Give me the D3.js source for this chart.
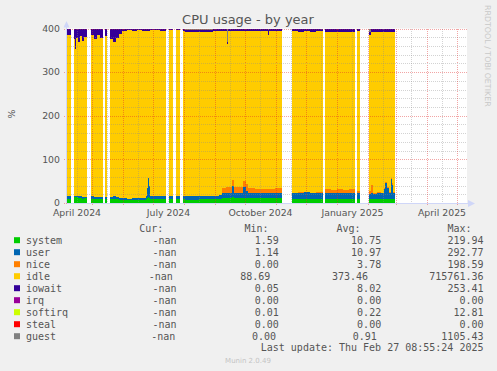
<!DOCTYPE html>
<html><head><meta charset="utf-8">
<script src="https://cdn.jsdelivr.net/npm/d3@7"></script>
<style>html,body{margin:0;padding:0;background:#f0f0f0;}svg{display:block;}</style>
</head><body><svg id="c" width="497" height="371"></svg>
<script>
// ---------- data (null = no data) ----------
const dates = ["2024-04-06","2024-04-10","2024-04-13","2024-04-14","2024-04-15","2024-04-17","2024-04-19","2024-04-21","2024-04-23","2024-04-26",
"2024-04-30","2024-05-03","2024-05-06","2024-05-09","2024-05-12","2024-05-14","2024-05-16","2024-05-19","2024-05-22","2024-05-25",
"2024-05-28","2024-05-31","2024-06-05","2024-06-10","2024-06-15","2024-06-20","2024-06-24","2024-06-25","2024-06-26","2024-06-27",
"2024-06-28","2024-07-03","2024-07-08","2024-07-14","2024-07-17","2024-07-21","2024-07-24","2024-07-28","2024-07-31","2024-08-02",
"2024-08-09","2024-08-16","2024-08-23","2024-08-30","2024-09-05","2024-09-08","2024-09-12","2024-09-13","2024-09-14","2024-09-18",
"2024-09-20","2024-09-23","2024-09-29","2024-10-02","2024-10-04","2024-10-11","2024-10-18","2024-10-24","2024-10-25","2024-10-31",
"2024-11-07","2024-11-17","2024-11-23","2024-11-29","2024-12-05","2024-12-11","2024-12-18","2024-12-20","2024-12-26","2025-01-01",
"2025-01-07","2025-01-13","2025-01-19","2025-01-21","2025-01-24","2025-02-02","2025-02-04","2025-02-06","2025-02-10","2025-02-14",
"2025-02-17","2025-02-18","2025-02-20","2025-02-22","2025-02-24","2025-02-25","2025-02-26","2025-02-27T12:00"];
const system = [10,null,13,14,13,12,11,10,11,null, 10,10,9,10,null,9,null,9,10,9, 8,8,7,7,8,8,9,12,14,12, 10,10,10,null,10,null,10,null,9,8,
8,9,9,9,10,11,11,11,11,13, 11,11,12,11,11,11,11,11,11,11, null,10,10,10,10,10,null,10,10,10, 10,10,null,10,null,9,9,9,9,9, 10,10,10,9,10,10,9,null];
const user = [5,null,3,3,4,3,4,4,3,null, 5,4,5,4,null,4,null,4,6,4, 4,3,3,4,3,4,7,22,44,28, 6,5,5,null,6,null,6,null,7,7,
8,8,7,8,8,11,12,12,12,26, 13,13,24,16,12,12,13,12,12,13, null,13,14,15,13,14,null,13,12,13, 12,13,null,12,null,12,14,12,15,13, 22,36,24,14,45,32,15,null];
const nice = [0,null,0,0,0,0,0,0,0,null, 0,0,0,0,null,0,null,0,0,0, 0,0,0,0,0,0,0,0,0,0, 0,0,0,null,0,null,0,null,0,0,
0,0,0,0,0,12,14,14,13,14, 12,13,14,16,11,10,9,10,10,11, null,1,1,1,1,1,null,9,8,9, 8,9,null,5,null,6,18,3,2,2, 3,3,3,2,3,3,2,null];
const idle = [370,null,359,335,361,355,367,358,366,null, 370,361,372,364,null,369,null,363,352,365, 376,384,386,384,385,383,379,361,337,355,
380,381,380,null,380,null,380,null,379,378, 377,375,375,378,377,361,358,328,359,342, 359,358,345,352,361,362,361,353,362,360,
null,370,368,368,369,369,null,361,363,360, 363,360,null,367,null,357,351,369,366,369, 358,344,356,368,335,348,367,null];
const iowait = [15,null,25,48,22,30,18,28,20,null, 15,25,14,22,null,18,null,24,32,22, 12,5,4,5,4,5,5,5,5,5, 4,4,5,null,4,null,4,null,5,4,
4,5,6,5,5,5,5,5,5,5, 5,5,5,5,5,5,6,10,5,5, null,6,7,6,7,6,null,7,7,8, 7,8,null,6,null,8,8,7,8,7, 7,7,7,7,7,7,7,null];
const guest = [0,null,0,0,0,0,0,0,0,null, 0,0,0,0,null,0,null,0,0,0, 0,0,0,0,0,0,0,0,0,0, 0,0,0,null,0,null,0,null,0,3,
3,3,3,0,0,0,0,30,0,0, 0,0,0,0,0,0,0,4,0,0, null,0,0,0,0,0,null,0,0,0, 0,0,null,0,null,8,0,0,0,0, 0,0,0,0,0,0,0,null];

const legendNames = ["system","user","nice","idle","iowait","irq","softirq","steal","guest"];
const legendColors = ["#00cc00","#0066b3","#ff8000","#ffcc00","#330099","#990099","#ccff00","#ff0000","#808080"];
const curValues = ["-nan","-nan","-nan","-nan","-nan","-nan","-nan","-nan","-nan"];
const minValues = ["1.59","1.14","0.00","88.69","0.05","0.00","0.01","0.00","0.00"];
const avgValues = ["10.75","10.97","3.78","373.46","8.02","0.00","0.22","0.00","0.91"];
const maxValues = ["219.94","292.77","198.59","715761.36","253.41","0.00","12.81","0.00","1105.43"];
const yTickValues = [0,100,200,300,400];
const xDomain = ["2024-04-06","2025-05-11"];
const title = "CPU usage - by year";
const lastUpdate = "Last update: Thu Feb 27 08:55:24 2025";

// ---------- drawing ----------
const svg = d3.select("#c");
const pDay = d3.timeParse("%Y-%m-%d"), pFull = d3.timeParse("%Y-%m-%dT%H:%M");
const pd = s => s.length > 10 ? pFull(s) : pDay(s);
const L = 67, R = 467, T = 28.5, B = 203;
const x = d3.scaleTime().domain(xDomain.map(pd)).range([L, R]);
const y = d3.scaleLinear().domain([0, 400]).range([B, T]);
const font = "'DejaVu Sans', sans-serif", mono = "'DejaVu Sans Mono', monospace";

svg.append("rect").attr("width", 497).attr("height", 371).attr("fill", "#f0f0f0");
svg.append("rect").attr("x", L).attr("y", T).attr("width", R - L).attr("height", B - T).attr("fill", "#fff");

const keys = ["system","user","nice","idle","iowait","guest"];
const colorOf = k => legendColors[legendNames.indexOf(k)];
const src = {system, user, nice, idle, iowait, guest};
const rows = dates.map((d, i) => {
  const r = {date: pd(d), ok: system[i] !== null};
  keys.forEach(k => r[k] = src[k][i] == null ? 0 : src[k][i]);
  return r;
});
const pts = [];
rows.forEach((r, i) => {
  pts.push(r);
  const nx = rows[i + 1];
  if (r.ok && nx && !nx.ok) pts.push(Object.assign({}, r, {date: nx.date}));
});
const stacked = d3.stack().keys(keys)(pts);
const area = d3.area().defined(d => d.data.ok)
  .x(d => x(d.data.date)).y0(d => y(d[0])).y1(d => y(d[1])).curve(d3.curveStepAfter);
svg.append("g").selectAll("path").data(stacked).join("path")
  .attr("d", area).attr("fill", d => colorOf(d.key)).attr("shape-rendering", "crispEdges");

// grid
const g = svg.append("g").attr("shape-rendering", "crispEdges");
const minorCol = "rgba(140,140,140,0.38)", majorCol = "rgba(225,40,40,0.42)";
y.ticks(20).filter(v => v % 100 !== 0).forEach(v => {
  g.append("line").attr("x1", L).attr("x2", R).attr("y1", Math.round(y(v)) + 0.5).attr("y2", Math.round(y(v)) + 0.5)
   .attr("stroke", minorCol).attr("stroke-dasharray", "1,1");
});
const monthStarts = d3.timeMonth.range(d3.timeMonth.floor(x.domain()[0]), x.domain()[1]);
monthStarts.map(m => d3.timeDay.offset(m, 15)).filter(d => d > x.domain()[0] && d < x.domain()[1]).forEach(d => {
  const xx = Math.round(x(d)) + 0.5;
  g.append("line").attr("x1", xx).attr("x2", xx).attr("y1", T).attr("y2", B)
   .attr("stroke", minorCol).attr("stroke-dasharray", "1,1");
});
yTickValues.forEach(v => {
  const yy = Math.round(y(v)) + 0.5;
  g.append("line").attr("x1", L - 3).attr("x2", R).attr("y1", yy).attr("y2", yy)
   .attr("stroke", majorCol).attr("stroke-dasharray", "1,1");
});
monthStarts.filter(d => d > x.domain()[0]).forEach(d => {
  const xx = Math.round(x(d)) + 0.5;
  g.append("line").attr("x1", xx).attr("x2", xx).attr("y1", T).attr("y2", B + 3)
   .attr("stroke", majorCol).attr("stroke-dasharray", "1,1");
});

// axes
const axCol = "#cfd6f8";
g.append("line").attr("x1", L - 0.5).attr("x2", L - 0.5).attr("y1", B).attr("y2", T - 3).attr("stroke", axCol);
g.append("line").attr("x1", L).attr("x2", R + 3).attr("y1", B + 0.5).attr("y2", B + 0.5).attr("stroke", axCol);
svg.append("path").attr("d", `M${L - 3.5},${T - 1}L${L - 0.5},${T - 7.5}L${L + 2.5},${T - 1}Z`).attr("fill", axCol);
svg.append("path").attr("d", `M${R + 1},${B - 3}L${R + 8},${B + 0.5}L${R + 1},${B + 4}Z`).attr("fill", axCol);

// y labels
svg.append("g").selectAll("text").data(yTickValues).join("text")
  .attr("x", 60).attr("y", v => y(v) + 3.3).attr("text-anchor", "end")
  .attr("font-family", font).attr("font-size", 9.33).attr("fill", "#555").text(d => d);
// x labels (centred in the labelled month)
const labelMonths = d3.timeMonth.range(d3.timeMonth.floor(x.domain()[0]), x.domain()[1]).filter(m => m.getMonth() % 3 === 0);
svg.append("g").selectAll("text").data(labelMonths).join("text")
  .attr("x", m => (x(m) + x(d3.timeMonth.offset(m, 1))) / 2).attr("y", 215.8).attr("text-anchor", "middle")
  .attr("font-family", font).attr("font-size", 9.33).attr("fill", "#555").text(d3.timeFormat("%B %Y"));

svg.append("text").attr("x", 248).attr("y", 24).attr("text-anchor", "middle")
  .attr("font-family", font).attr("font-size", 13).attr("fill", "#555").text(title);
svg.append("text").attr("transform", "translate(14.5,114) rotate(-90)").attr("text-anchor", "middle")
  .attr("font-family", font).attr("font-size", 9.33).attr("fill", "#555").text("%");
svg.append("text").attr("transform", "translate(485,5) rotate(90)").attr("text-anchor", "start")
  .attr("font-family", font).attr("font-size", 7.9).attr("fill", "#c8c8c8").text("RRDTOOL / TOBI OETIKER");

// legend
const lg = svg.append("g").attr("font-family", mono).attr("font-size", 10).attr("fill", "#555");
[["Cur:",139.3],["Min:",244.5],["Avg:",336.5],["Max:",447.5]].forEach(([t, xx]) =>
  lg.append("text").attr("x", xx).attr("y", 231.9).text(t));
legendNames.forEach((n, i) => {
  const yy = 240 + i * 12;
  const e = Math.max(0, maxValues[i].length - 6);
  lg.append("rect").attr("x", 14).attr("y", yy - 2.8).attr("width", 6).attr("height", 6).attr("fill", legendColors[i]);
  lg.append("text").attr("x", 26).attr("y", yy + 3.6).text(n);
  lg.append("text").attr("x", 176.5 - 1.2 * e).attr("y", yy + 3.6).attr("text-anchor", "end").text(curValues[i]);
  lg.append("text").attr("x", 278.8 - 2.8 * e).attr("y", yy + 3.6).attr("text-anchor", "end").text(minValues[i]);
  lg.append("text").attr("x", 381.2 - 4.4 * e).attr("y", yy + 3.6).attr("text-anchor", "end").text(avgValues[i]);
  lg.append("text").attr("x", 483.5).attr("y", yy + 3.6).attr("text-anchor", "end").text(maxValues[i]);
});
lg.append("text").attr("x", 483.5).attr("y", 351.3).attr("text-anchor", "end").text(lastUpdate);
svg.append("text").attr("x", 248).attr("y", 363).attr("text-anchor", "middle")
  .attr("font-family", font).attr("font-size", 7).attr("fill", "#c4c4c4").text("Munin 2.0.49");
</script></body></html>
